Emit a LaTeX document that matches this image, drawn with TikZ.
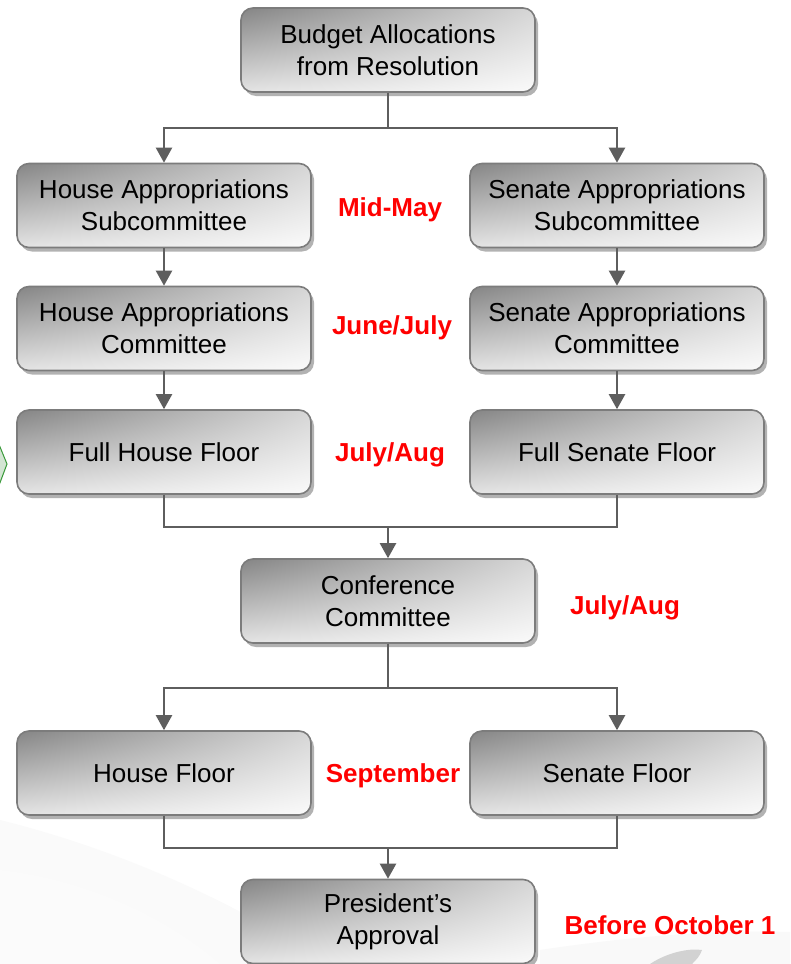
\documentclass[tikz,border=0pt]{standalone}
\usepackage{fontspec}
\setmainfont{Liberation Sans}
\usetikzlibrary{arrows.meta,shadows,shadings}
\definecolor{boxul}{HTML}{858585}
\definecolor{boxur}{HTML}{D6D6D6}
\definecolor{boxll}{HTML}{E4E4E4}
\definecolor{boxlr}{HTML}{FAFAFA}
\definecolor{boxedge}{HTML}{7C7C7C}
\definecolor{connc}{HTML}{5E5E5E}
\definecolor{datered}{HTML}{FF0000}
\definecolor{hexfill}{HTML}{D3E5D3}
\definecolor{hexedge}{HTML}{3A9A3A}
\tikzset{
  stepbox/.style={rectangle, rounded corners=12pt, draw=boxedge, line width=1.6pt,
    upper left=boxul, upper right=boxur, lower left=boxll, lower right=boxlr,
    minimum width=294pt, minimum height=84pt, inner sep=0pt, align=center,
    font=\fontsize{26}{32}\selectfont,
    drop shadow={shadow xshift=3pt, shadow yshift=-4pt, opacity=0.3, fill=black}},
  datelabel/.style={text=datered, font=\fontsize{26}{32}\selectfont\bfseries, inner sep=0pt},
  link/.style={draw=connc, line width=2.2pt},
  arrowlink/.style={link, -{Triangle[length=15pt,width=16pt]}}
}
\begin{document}
\begin{tikzpicture}[x=1pt,y=-1pt]
\useasboundingbox (0,0) rectangle (790,964);
\fill[white] (0,0) rectangle (790,964);
% background swooshes
\fill[gray!4] (0,820) .. controls (120,850) and (230,900) .. (330,964) -- (0,964) -- cycle;
\fill[gray!3] (0,870) .. controls (90,880) and (170,920) .. (220,964) -- (0,964) -- cycle;
\fill[gray!5] (540,950) .. controls (640,935) and (720,930) .. (790,932) -- (790,964) -- (540,964) -- cycle;
\fill[gray!35] (650,964) .. controls (668,952) and (690,948) .. (702,950) .. controls (700,956) and (696,960) .. (692,964) -- cycle;
% green shape at left edge
\filldraw[fill=hexfill, draw=hexedge, line width=1pt] (-2,442) -- (7,464) -- (-2,488) -- cycle;

% boxes
\node[stepbox] (top) at (388,50) {Budget Allocations\\from Resolution};
\node[stepbox] (hsub) at (164,205.5) {House Appropriations\\Subcommittee};
\node[stepbox] (ssub) at (617,205.5) {Senate Appropriations\\Subcommittee};
\node[stepbox] (hcom) at (164,328.5) {House Appropriations\\Committee};
\node[stepbox] (scom) at (617,328.5) {Senate Appropriations\\Committee};
\node[stepbox] (hfull) at (164,452) {Full House Floor};
\node[stepbox] (sfull) at (617,452) {Full Senate Floor};
\node[stepbox] (conf) at (388,601) {Conference\\Committee};
\node[stepbox] (hfloor) at (164,773) {House Floor};
\node[stepbox] (sfloor) at (617,773) {Senate Floor};
\node[stepbox] (pres) at (388,921.5) {President’s\\Approval};

% date labels
\node[datelabel] (d1) at (390,210) {Mid-May};
\node[datelabel] (d2) at (392,328) {June/July};
\node[datelabel] (d3) at (390,455) {July/Aug};
\node[datelabel] (d4) at (625,608) {July/Aug};
\node[datelabel] (d5) at (393,776) {September};
\node[datelabel] (d6) at (670,925) {Before October 1};

% junction points
\coordinate (j1) at (388,128);
\coordinate (j2) at (388,527);
\coordinate (j3) at (388,688);
\coordinate (j4) at (388,848);

% connectors
\draw[link] (top.south) -- (j1);
\draw[arrowlink] (j1) -| (hsub.north);
\draw[arrowlink] (j1) -| (ssub.north);
\draw[arrowlink] (hsub.south) -- (hcom.north);
\draw[arrowlink] (ssub.south) -- (scom.north);
\draw[arrowlink] (hcom.south) -- (hfull.north);
\draw[arrowlink] (scom.south) -- (sfull.north);
\draw[link] (hfull.south) |- (j2);
\draw[link] (sfull.south) |- (j2);
\draw[arrowlink] (j2) -- (conf.north);
\draw[link] (conf.south) -- (j3);
\draw[arrowlink] (j3) -| (hfloor.north);
\draw[arrowlink] (j3) -| (sfloor.north);
\draw[link] (hfloor.south) |- (j4);
\draw[link] (sfloor.south) |- (j4);
\draw[arrowlink] (j4) -- (pres.north);
\end{tikzpicture}
\end{document}
